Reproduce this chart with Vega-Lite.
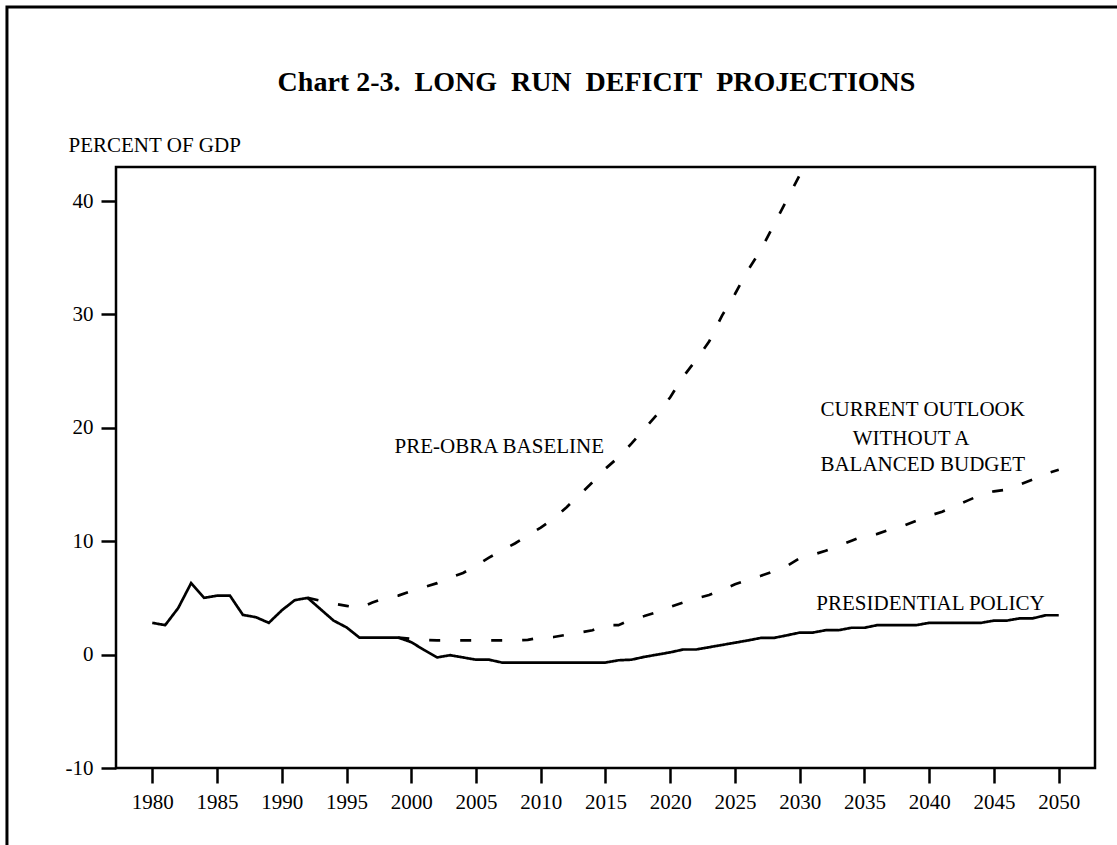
{
  "$schema": "https://vega.github.io/schema/vega-lite/v6.json",
  "autosize": {"type": "none"},
  "padding": {"left": 116, "top": 167, "right": 22, "bottom": 77},
  "width": 979,
  "height": 601,
  "background": "white",
  "config": {
    "view": {"stroke": "black", "strokeWidth": 2.5},
    "font": "Liberation Serif"
  },
  "title": {
    "text": "Chart 2-3.\u00a0 LONG\u00a0 RUN\u00a0 DEFICIT\u00a0 PROJECTIONS",
    "font": "Liberation Serif",
    "fontSize": 28,
    "fontWeight": "bold",
    "color": "black",
    "anchor": "middle",
    "baseline": "alphabetic",
    "dx": -9,
    "offset": -113
  },
  "datasets": {
    "frame": [
      {"x1": 1968.78, "x2": 2075, "y1": 57.1, "y2": -40}
    ],
    "series": [
      {"series": "Presidential policy", "year": 1980, "value": 2.8},
      {"series": "Presidential policy", "year": 1981, "value": 2.6},
      {"series": "Presidential policy", "year": 1982, "value": 4.1},
      {"series": "Presidential policy", "year": 1983, "value": 6.3},
      {"series": "Presidential policy", "year": 1984, "value": 5.0},
      {"series": "Presidential policy", "year": 1985, "value": 5.2},
      {"series": "Presidential policy", "year": 1986, "value": 5.2},
      {"series": "Presidential policy", "year": 1987, "value": 3.5},
      {"series": "Presidential policy", "year": 1988, "value": 3.3},
      {"series": "Presidential policy", "year": 1989, "value": 2.8},
      {"series": "Presidential policy", "year": 1990, "value": 3.9},
      {"series": "Presidential policy", "year": 1991, "value": 4.8},
      {"series": "Presidential policy", "year": 1992, "value": 5.0},
      {"series": "Presidential policy", "year": 1993, "value": 4.0},
      {"series": "Presidential policy", "year": 1994, "value": 3.0},
      {"series": "Presidential policy", "year": 1995, "value": 2.4},
      {"series": "Presidential policy", "year": 1996, "value": 1.5},
      {"series": "Presidential policy", "year": 1997, "value": 1.5},
      {"series": "Presidential policy", "year": 1998, "value": 1.5},
      {"series": "Presidential policy", "year": 1999, "value": 1.5},
      {"series": "Presidential policy", "year": 2000, "value": 1.1},
      {"series": "Presidential policy", "year": 2001, "value": 0.4},
      {"series": "Presidential policy", "year": 2002, "value": -0.25},
      {"series": "Presidential policy", "year": 2003, "value": -0.05},
      {"series": "Presidential policy", "year": 2004, "value": -0.25},
      {"series": "Presidential policy", "year": 2005, "value": -0.45},
      {"series": "Presidential policy", "year": 2006, "value": -0.45},
      {"series": "Presidential policy", "year": 2007, "value": -0.7},
      {"series": "Presidential policy", "year": 2008, "value": -0.7},
      {"series": "Presidential policy", "year": 2009, "value": -0.7},
      {"series": "Presidential policy", "year": 2010, "value": -0.7},
      {"series": "Presidential policy", "year": 2011, "value": -0.7},
      {"series": "Presidential policy", "year": 2012, "value": -0.7},
      {"series": "Presidential policy", "year": 2013, "value": -0.7},
      {"series": "Presidential policy", "year": 2014, "value": -0.7},
      {"series": "Presidential policy", "year": 2015, "value": -0.7},
      {"series": "Presidential policy", "year": 2016, "value": -0.5},
      {"series": "Presidential policy", "year": 2017, "value": -0.45},
      {"series": "Presidential policy", "year": 2018, "value": -0.2},
      {"series": "Presidential policy", "year": 2019, "value": 0.0},
      {"series": "Presidential policy", "year": 2020, "value": 0.2},
      {"series": "Presidential policy", "year": 2021, "value": 0.45},
      {"series": "Presidential policy", "year": 2022, "value": 0.45},
      {"series": "Presidential policy", "year": 2023, "value": 0.65},
      {"series": "Presidential policy", "year": 2024, "value": 0.85},
      {"series": "Presidential policy", "year": 2025, "value": 1.05},
      {"series": "Presidential policy", "year": 2026, "value": 1.25},
      {"series": "Presidential policy", "year": 2027, "value": 1.47},
      {"series": "Presidential policy", "year": 2028, "value": 1.47},
      {"series": "Presidential policy", "year": 2029, "value": 1.7},
      {"series": "Presidential policy", "year": 2030, "value": 1.94},
      {"series": "Presidential policy", "year": 2031, "value": 1.94},
      {"series": "Presidential policy", "year": 2032, "value": 2.15},
      {"series": "Presidential policy", "year": 2033, "value": 2.15},
      {"series": "Presidential policy", "year": 2034, "value": 2.37},
      {"series": "Presidential policy", "year": 2035, "value": 2.37},
      {"series": "Presidential policy", "year": 2036, "value": 2.6},
      {"series": "Presidential policy", "year": 2037, "value": 2.6},
      {"series": "Presidential policy", "year": 2038, "value": 2.6},
      {"series": "Presidential policy", "year": 2039, "value": 2.6},
      {"series": "Presidential policy", "year": 2040, "value": 2.8},
      {"series": "Presidential policy", "year": 2041, "value": 2.8},
      {"series": "Presidential policy", "year": 2042, "value": 2.8},
      {"series": "Presidential policy", "year": 2043, "value": 2.8},
      {"series": "Presidential policy", "year": 2044, "value": 2.8},
      {"series": "Presidential policy", "year": 2045, "value": 3.0},
      {"series": "Presidential policy", "year": 2046, "value": 3.0},
      {"series": "Presidential policy", "year": 2047, "value": 3.2},
      {"series": "Presidential policy", "year": 2048, "value": 3.2},
      {"series": "Presidential policy", "year": 2049, "value": 3.47},
      {"series": "Presidential policy", "year": 2050, "value": 3.47},
      {"series": "Pre-OBRA baseline", "year": 1992, "value": 5.0},
      {"series": "Pre-OBRA baseline", "year": 1993, "value": 4.75},
      {"series": "Pre-OBRA baseline", "year": 1994, "value": 4.5},
      {"series": "Pre-OBRA baseline", "year": 1995, "value": 4.3},
      {"series": "Pre-OBRA baseline", "year": 1996, "value": 4.1},
      {"series": "Pre-OBRA baseline", "year": 1997, "value": 4.6},
      {"series": "Pre-OBRA baseline", "year": 1998, "value": 5.0},
      {"series": "Pre-OBRA baseline", "year": 1999, "value": 5.2},
      {"series": "Pre-OBRA baseline", "year": 2000, "value": 5.6},
      {"series": "Pre-OBRA baseline", "year": 2001, "value": 5.95},
      {"series": "Pre-OBRA baseline", "year": 2002, "value": 6.3},
      {"series": "Pre-OBRA baseline", "year": 2003, "value": 6.8},
      {"series": "Pre-OBRA baseline", "year": 2004, "value": 7.2},
      {"series": "Pre-OBRA baseline", "year": 2005, "value": 7.85},
      {"series": "Pre-OBRA baseline", "year": 2006, "value": 8.55},
      {"series": "Pre-OBRA baseline", "year": 2007, "value": 9.2},
      {"series": "Pre-OBRA baseline", "year": 2008, "value": 9.8},
      {"series": "Pre-OBRA baseline", "year": 2009, "value": 10.5},
      {"series": "Pre-OBRA baseline", "year": 2010, "value": 11.2},
      {"series": "Pre-OBRA baseline", "year": 2011, "value": 12.0},
      {"series": "Pre-OBRA baseline", "year": 2012, "value": 13.0},
      {"series": "Pre-OBRA baseline", "year": 2013, "value": 14.1},
      {"series": "Pre-OBRA baseline", "year": 2014, "value": 15.2},
      {"series": "Pre-OBRA baseline", "year": 2015, "value": 16.4},
      {"series": "Pre-OBRA baseline", "year": 2016, "value": 17.4},
      {"series": "Pre-OBRA baseline", "year": 2017, "value": 18.6},
      {"series": "Pre-OBRA baseline", "year": 2018, "value": 19.9},
      {"series": "Pre-OBRA baseline", "year": 2019, "value": 21.2},
      {"series": "Pre-OBRA baseline", "year": 2020, "value": 22.7},
      {"series": "Pre-OBRA baseline", "year": 2021, "value": 24.5},
      {"series": "Pre-OBRA baseline", "year": 2022, "value": 26.0},
      {"series": "Pre-OBRA baseline", "year": 2023, "value": 27.6},
      {"series": "Pre-OBRA baseline", "year": 2024, "value": 29.9},
      {"series": "Pre-OBRA baseline", "year": 2025, "value": 31.8},
      {"series": "Pre-OBRA baseline", "year": 2026, "value": 33.9},
      {"series": "Pre-OBRA baseline", "year": 2027, "value": 35.7},
      {"series": "Pre-OBRA baseline", "year": 2028, "value": 37.9},
      {"series": "Pre-OBRA baseline", "year": 2029, "value": 40.1},
      {"series": "Pre-OBRA baseline", "year": 2030, "value": 42.3},
      {"series": "Current outlook", "year": 1999, "value": 1.5},
      {"series": "Current outlook", "year": 2000, "value": 1.4},
      {"series": "Current outlook", "year": 2001, "value": 1.3},
      {"series": "Current outlook", "year": 2002, "value": 1.25},
      {"series": "Current outlook", "year": 2003, "value": 1.25},
      {"series": "Current outlook", "year": 2004, "value": 1.25},
      {"series": "Current outlook", "year": 2005, "value": 1.25},
      {"series": "Current outlook", "year": 2006, "value": 1.25},
      {"series": "Current outlook", "year": 2007, "value": 1.25},
      {"series": "Current outlook", "year": 2008, "value": 1.25},
      {"series": "Current outlook", "year": 2009, "value": 1.3},
      {"series": "Current outlook", "year": 2010, "value": 1.5},
      {"series": "Current outlook", "year": 2011, "value": 1.55},
      {"series": "Current outlook", "year": 2012, "value": 1.75},
      {"series": "Current outlook", "year": 2013, "value": 1.95},
      {"series": "Current outlook", "year": 2014, "value": 2.15},
      {"series": "Current outlook", "year": 2015, "value": 2.6},
      {"series": "Current outlook", "year": 2016, "value": 2.6},
      {"series": "Current outlook", "year": 2017, "value": 3.1},
      {"series": "Current outlook", "year": 2018, "value": 3.4},
      {"series": "Current outlook", "year": 2019, "value": 3.75},
      {"series": "Current outlook", "year": 2020, "value": 4.2},
      {"series": "Current outlook", "year": 2021, "value": 4.6},
      {"series": "Current outlook", "year": 2022, "value": 4.95},
      {"series": "Current outlook", "year": 2023, "value": 5.25},
      {"series": "Current outlook", "year": 2024, "value": 5.7},
      {"series": "Current outlook", "year": 2025, "value": 6.2},
      {"series": "Current outlook", "year": 2026, "value": 6.6},
      {"series": "Current outlook", "year": 2027, "value": 6.95},
      {"series": "Current outlook", "year": 2028, "value": 7.35},
      {"series": "Current outlook", "year": 2029, "value": 7.8},
      {"series": "Current outlook", "year": 2030, "value": 8.5},
      {"series": "Current outlook", "year": 2031, "value": 8.8},
      {"series": "Current outlook", "year": 2032, "value": 9.15},
      {"series": "Current outlook", "year": 2033, "value": 9.6},
      {"series": "Current outlook", "year": 2034, "value": 10.05},
      {"series": "Current outlook", "year": 2035, "value": 10.5},
      {"series": "Current outlook", "year": 2036, "value": 10.65},
      {"series": "Current outlook", "year": 2037, "value": 11.05},
      {"series": "Current outlook", "year": 2038, "value": 11.35},
      {"series": "Current outlook", "year": 2039, "value": 11.8},
      {"series": "Current outlook", "year": 2040, "value": 12.25},
      {"series": "Current outlook", "year": 2041, "value": 12.6},
      {"series": "Current outlook", "year": 2042, "value": 13.1},
      {"series": "Current outlook", "year": 2043, "value": 13.6},
      {"series": "Current outlook", "year": 2044, "value": 14.1},
      {"series": "Current outlook", "year": 2045, "value": 14.4},
      {"series": "Current outlook", "year": 2046, "value": 14.55},
      {"series": "Current outlook", "year": 2047, "value": 15.0},
      {"series": "Current outlook", "year": 2048, "value": 15.45},
      {"series": "Current outlook", "year": 2049, "value": 15.95},
      {"series": "Current outlook", "year": 2050, "value": 16.3}
    ],
    "labels": [
      {"label": "PRE-OBRA BASELINE", "year": 2006.8, "value": 17.77},
      {"label": "CURRENT OUTLOOK", "year": 2039.5, "value": 21.03},
      {"label": "WITHOUT A", "year": 2038.6, "value": 18.47},
      {"label": "BALANCED BUDGET", "year": 2039.5, "value": 16.2},
      {"label": "PRESIDENTIAL POLICY", "year": 2040.1, "value": 3.97}
    ]
  },
  "encoding": {
    "x": {
      "field": "year",
      "type": "quantitative",
      "scale": {"domain": [1977.2, 2052.8], "nice": false, "zero": false},
      "axis": {
        "values": [1980, 1985, 1990, 1995, 2000, 2005, 2010, 2015, 2020, 2025, 2030, 2035, 2040, 2045, 2050],
        "labelExpr": "'' + datum.value",
        "title": null,
        "domain": false,
        "grid": false,
        "ticks": true,
        "tickSize": 15,
        "tickWidth": 2.5,
        "tickColor": "black",
        "labelFont": "Liberation Serif",
        "labelFontSize": 21,
        "labelColor": "black",
        "labelPadding": 8,
        "labelOverlap": false
      }
    },
    "y": {
      "field": "value",
      "type": "quantitative",
      "scale": {"domain": [-10, 43], "nice": false, "zero": false},
      "axis": {
        "values": [-10, 0, 10, 20, 30, 40],
        "labelExpr": "'' + datum.value",
        "title": "PERCENT OF GDP",
        "titleAngle": 0,
        "titleAlign": "left",
        "titleBaseline": "alphabetic",
        "titleX": -48,
        "titleY": -16,
        "titleFont": "Liberation Serif",
        "titleFontSize": 21,
        "titleFontWeight": "normal",
        "titleColor": "black",
        "domain": false,
        "grid": false,
        "ticks": true,
        "tickSize": 15,
        "tickWidth": 2.5,
        "tickColor": "black",
        "labelFont": "Liberation Serif",
        "labelFontSize": 21,
        "labelColor": "black",
        "labelPadding": 8,
        "labelOverlap": false
      }
    }
  },
  "layer": [
    {
      "data": {"name": "frame"},
      "mark": {"type": "rect", "filled": false, "stroke": "black", "strokeWidth": 3, "clip": false},
      "encoding": {
        "x": {"field": "x1", "type": "quantitative"},
        "x2": {"field": "x2"},
        "y": {"field": "y1", "type": "quantitative"},
        "y2": {"field": "y2"}
      }
    },
    {
      "mark": {"type": "rule", "stroke": "black", "strokeWidth": 2.5},
      "encoding": {"y": {"datum": 0}}
    },
    {
      "data": {"name": "series"},
      "mark": {"type": "line", "stroke": "black", "strokeWidth": 2.7, "strokeJoin": "miter"},
      "encoding": {
        "strokeDash": {
          "field": "series",
          "type": "nominal",
          "scale": {
            "domain": ["Presidential policy", "Current outlook", "Pre-OBRA baseline"],
            "range": [[1, 0], [11, 20], [11, 20]]
          },
          "legend": null
        }
      }
    },
    {
      "data": {"name": "labels"},
      "mark": {"type": "text", "font": "Liberation Serif", "fontSize": 21, "color": "black", "align": "center", "baseline": "alphabetic"},
      "encoding": {
        "text": {"field": "label", "type": "nominal"}
      }
    }
  ]
}
